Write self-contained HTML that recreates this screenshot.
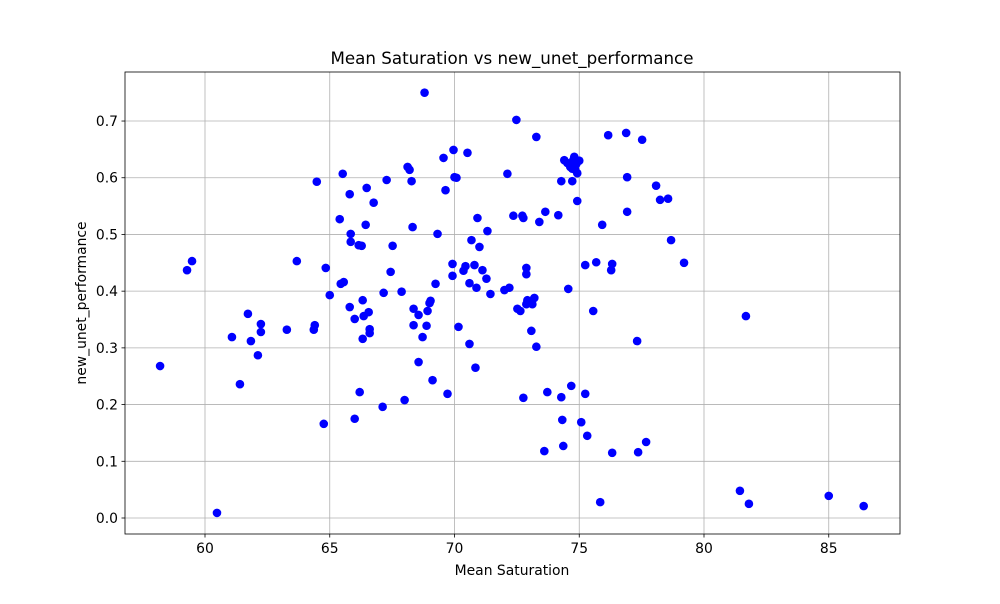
<!DOCTYPE html>
<html><head><meta charset="utf-8"><style>
body{margin:0;background:#fff;font-family:"DejaVu Sans","Liberation Sans",sans-serif;}
svg text{font-family:"DejaVu Sans","Liberation Sans",sans-serif;fill:#000;}
</style></head><body>
<svg id="chart" width="1000" height="600" xmlns="http://www.w3.org/2000/svg">
<rect width="1000" height="600" fill="#fff"/>
<text x="512" y="64" font-size="16.7" text-anchor="middle">Mean Saturation vs new_unet_performance</text>
<text x="512" y="575" font-size="13.9" text-anchor="middle">Mean Saturation</text>
<text transform="translate(86,303) rotate(-90)" font-size="13.9" text-anchor="middle">new_unet_performance</text>
<g id="grid"></g><g id="pts"></g><g id="axes"></g>
</svg>
<script>
const xTicks=[60,65,70,75,80,85];
const yTicks=[0.0,0.1,0.2,0.3,0.4,0.5,0.6,0.7];
const xs=[58.2,59.28,59.48,60.48,61.08,61.4,61.72,61.84,62.12,62.24,62.24,63.28,63.68,64.36,64.4,64.48,64.76,64.84,65.0,65.4,65.44,65.52,65.56,65.8,65.8,65.84,65.84,66.0,66.0,66.16,66.2,66.28,66.32,66.32,66.36,66.48,66.44,66.56,66.6,66.6,66.76,67.12,67.16,67.28,67.44,67.52,67.88,68.0,68.12,68.2,68.28,68.32,68.36,68.36,68.56,68.56,68.72,68.8,68.88,68.92,69.0,69.04,69.12,69.24,69.32,69.56,69.64,69.72,69.92,69.92,69.96,70.0,70.08,70.16,70.36,70.44,70.52,70.6,70.6,70.68,70.8,70.84,70.88,70.92,71.0,71.12,71.28,71.32,71.44,72.0,72.2,72.12,72.36,72.48,72.52,72.64,72.72,72.76,72.76,72.88,72.88,72.88,72.92,73.12,73.2,73.08,73.28,73.28,73.4,73.64,73.72,73.6,74.16,74.28,74.28,74.32,74.36,74.4,74.52,74.56,74.64,74.68,74.72,74.72,74.76,74.8,74.88,74.92,74.84,74.92,75.0,75.08,75.24,75.24,75.32,75.56,75.68,75.84,75.92,76.16,76.32,76.28,76.32,76.88,76.92,76.92,77.32,77.36,77.52,77.68,78.08,78.24,78.56,78.68,79.2,81.44,81.68,81.8,85.0,86.4];
const ys=[0.268,0.437,0.453,0.009,0.319,0.236,0.360,0.312,0.287,0.342,0.328,0.332,0.453,0.332,0.340,0.593,0.166,0.441,0.393,0.527,0.413,0.607,0.416,0.571,0.372,0.501,0.487,0.351,0.175,0.481,0.222,0.480,0.384,0.316,0.356,0.582,0.517,0.363,0.333,0.326,0.556,0.196,0.397,0.596,0.434,0.480,0.399,0.208,0.619,0.614,0.594,0.513,0.369,0.340,0.275,0.358,0.319,0.750,0.339,0.365,0.379,0.383,0.243,0.413,0.501,0.635,0.578,0.219,0.448,0.427,0.649,0.601,0.600,0.337,0.436,0.444,0.644,0.414,0.307,0.490,0.446,0.265,0.406,0.529,0.478,0.437,0.422,0.506,0.395,0.402,0.406,0.607,0.533,0.702,0.369,0.365,0.533,0.529,0.212,0.377,0.441,0.430,0.384,0.377,0.388,0.330,0.672,0.302,0.522,0.540,0.222,0.118,0.534,0.594,0.213,0.173,0.127,0.631,0.626,0.404,0.619,0.233,0.616,0.594,0.631,0.637,0.624,0.608,0.614,0.559,0.630,0.169,0.219,0.446,0.145,0.365,0.451,0.028,0.517,0.675,0.115,0.437,0.448,0.679,0.601,0.540,0.312,0.116,0.667,0.134,0.586,0.561,0.563,0.490,0.450,0.048,0.356,0.025,0.039,0.021];
const L=125,R=900,T=72,B=534;
const sx=v=>205+(v-60)*24.95;
const sy=v=>518-v*567.1;
const NS='http://www.w3.org/2000/svg';
function mk(tag,attrs,parent){const e=document.createElementNS(NS,tag);for(const k in attrs)e.setAttribute(k,attrs[k]);parent.appendChild(e);return e;}
const grid=document.getElementById('grid'),pts=document.getElementById('pts'),axes=document.getElementById('axes');
xTicks.forEach(t=>{const x=sx(t);
 const g=mk('line',{x1:x,x2:x,y1:T,y2:B,stroke:'#b0b0b0','stroke-width':0.8},grid);
 
 
 mk('line',{x1:x,x2:x,y1:B,y2:B+3.5,stroke:'#000','stroke-width':0.8},axes);
 const tx=mk('text',{x:x,y:B+19,'font-size':13.9,'text-anchor':'middle'},axes);tx.textContent=t;
 
 
});
yTicks.forEach(t=>{const y=sy(t);
 const g=mk('line',{x1:L,x2:R,y1:y,y2:y,stroke:'#b0b0b0','stroke-width':0.8},grid);
 
 
 mk('line',{x1:L-3.5,x2:L,y1:y,y2:y,stroke:'#000','stroke-width':0.8},axes);
 const tx=mk('text',{x:L-7,y:y+5,'font-size':13.9,'text-anchor':'end'},axes);tx.textContent=t.toFixed(1);
 
 
});
const fr=mk('rect',{x:L,y:T,width:R-L,height:B-T,fill:'none',stroke:'#000','stroke-width':0.8},axes);


xs.forEach((v,i)=>{const c=mk('circle',{cx:sx(v),cy:sy(ys[i]),r:4.3,fill:'#0000ff'},pts);
 
 
});
</script>
</body></html>
